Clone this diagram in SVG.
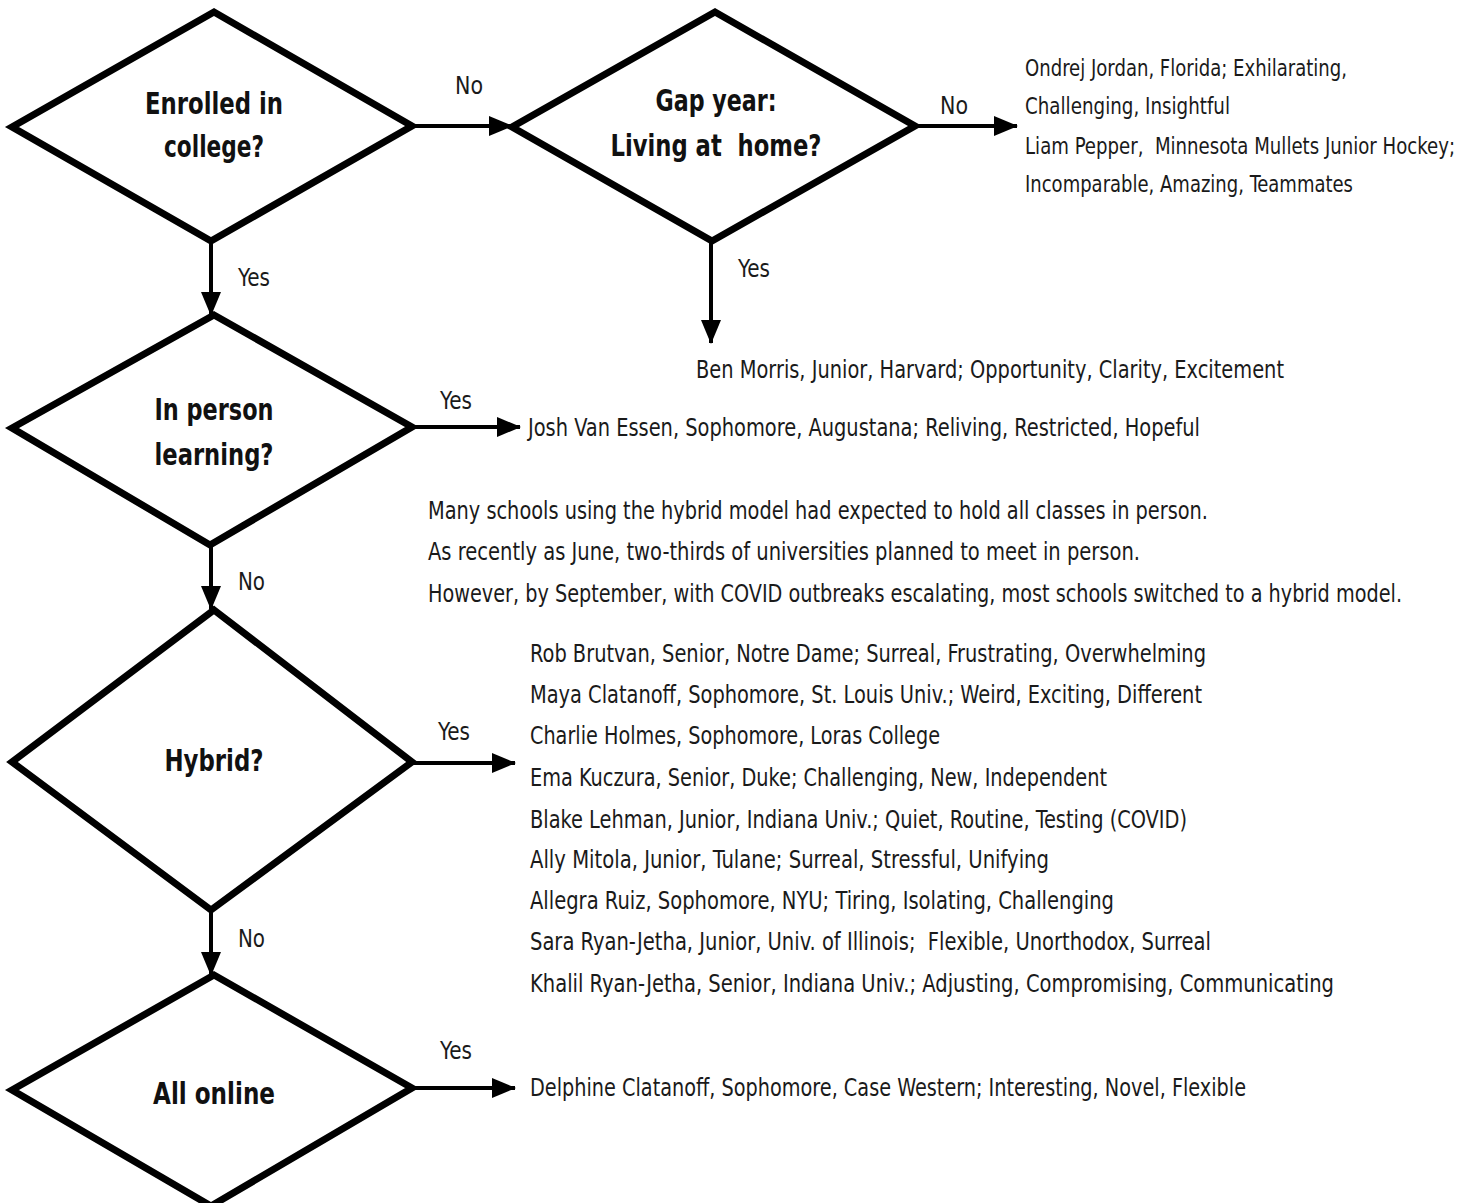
<svg xmlns="http://www.w3.org/2000/svg" width="1474" height="1203" viewBox="0 0 1474 1203">
<style>
.dia{fill:#fff;stroke:#000;stroke-width:7;stroke-linejoin:miter}
.con{fill:none;stroke:#000;stroke-width:4}
text{font-family:"Liberation Sans Narrow","DejaVu Sans Condensed","Liberation Sans",sans-serif;fill:#1a1a1a}
.q{font-size:31px;font-weight:bold;text-anchor:middle;fill:#111}
.t{font-size:25px}
.s{font-size:23px}
.l{font-size:24px}
</style>
<defs>
<marker id="ah" markerUnits="userSpaceOnUse" markerWidth="24" markerHeight="20" refX="23" refY="10" orient="auto">
<path d="M0,0 L24,10 L0,20 z" fill="#000"/>
</marker>
</defs>
<rect width="1474" height="1203" fill="#fff"/>
<g id="connectors">
<line class="con" x1="412" y1="126" x2="512" y2="126" marker-end="url(#ah)"/>
<line class="con" x1="915" y1="126" x2="1017" y2="126" marker-end="url(#ah)"/>
<line class="con" x1="211" y1="242" x2="211" y2="315" marker-end="url(#ah)"/>
<line class="con" x1="711" y1="242" x2="711" y2="343" marker-end="url(#ah)"/>
<line class="con" x1="412" y1="427" x2="520" y2="427" marker-end="url(#ah)"/>
<line class="con" x1="211" y1="545" x2="211" y2="609" marker-end="url(#ah)"/>
<line class="con" x1="412" y1="763" x2="515" y2="763" marker-end="url(#ah)"/>
<line class="con" x1="211" y1="910" x2="211" y2="975" marker-end="url(#ah)"/>
<line class="con" x1="412" y1="1088" x2="515" y2="1088" marker-end="url(#ah)"/>
<text class="l" x="455" y="94" textLength="28" lengthAdjust="spacingAndGlyphs">No</text>
<text class="l" x="940" y="114" textLength="28" lengthAdjust="spacingAndGlyphs">No</text>
<text class="l" x="238" y="286" textLength="32" lengthAdjust="spacingAndGlyphs">Yes</text>
<text class="l" x="738" y="277" textLength="32" lengthAdjust="spacingAndGlyphs">Yes</text>
<text class="l" x="440" y="409" textLength="32" lengthAdjust="spacingAndGlyphs">Yes</text>
<text class="l" x="238" y="590" textLength="27" lengthAdjust="spacingAndGlyphs">No</text>
<text class="l" x="438" y="740" textLength="32" lengthAdjust="spacingAndGlyphs">Yes</text>
<text class="l" x="238" y="947" textLength="27" lengthAdjust="spacingAndGlyphs">No</text>
<text class="l" x="440" y="1059" textLength="32" lengthAdjust="spacingAndGlyphs">Yes</text>
</g>
<g id="n-enrolled">
<polygon class="dia" points="214,12 412,126 211,241 12,127"/>
<text class="q" x="214" y="114" textLength="138" lengthAdjust="spacingAndGlyphs">Enrolled in</text>
<text class="q" x="214" y="157" textLength="100" lengthAdjust="spacingAndGlyphs">college?</text>
</g>
<g id="n-gap">
<polygon class="dia" points="715,12 915,126 712,241 512,127"/>
<text class="q" x="716" y="111" textLength="121" lengthAdjust="spacingAndGlyphs">Gap year:</text>
<text class="q" x="716" y="156" textLength="211" lengthAdjust="spacingAndGlyphs" xml:space="preserve">Living at  home?</text>
</g>
<g id="n-inperson">
<polygon class="dia" points="214,315 412,427 210,545 12,428"/>
<text class="q" x="214" y="420" textLength="119" lengthAdjust="spacingAndGlyphs">In person</text>
<text class="q" x="214" y="465" textLength="119" lengthAdjust="spacingAndGlyphs">learning?</text>
</g>
<g id="n-hybrid">
<polygon class="dia" points="214,610 412,762 211,910 12,762"/>
<text class="q" x="214" y="771" textLength="99" lengthAdjust="spacingAndGlyphs">Hybrid?</text>
</g>
<g id="n-online">
<polygon class="dia" points="214,975 412,1088 211,1206 12,1090"/>
<text class="q" x="214" y="1104" textLength="122" lengthAdjust="spacingAndGlyphs">All online</text>
</g>
<g id="n-gap-no">
<text class="s" x="1025" y="76" textLength="322" lengthAdjust="spacingAndGlyphs">Ondrej Jordan, Florida; Exhilarating,</text>
<text class="s" x="1025" y="114" textLength="205" lengthAdjust="spacingAndGlyphs">Challenging, Insightful</text>
<text class="s" x="1025" y="154" textLength="430" lengthAdjust="spacingAndGlyphs" xml:space="preserve">Liam Pepper,  Minnesota Mullets Junior Hockey;</text>
<text class="s" x="1025" y="192" textLength="328" lengthAdjust="spacingAndGlyphs">Incomparable, Amazing, Teammates</text>
</g>
<g id="n-gap-yes">
<text class="t" x="696" y="378" textLength="588" lengthAdjust="spacingAndGlyphs">Ben Morris, Junior, Harvard; Opportunity, Clarity, Excitement</text>
</g>
<g id="n-inperson-yes">
<text class="t" x="528" y="436" textLength="672" lengthAdjust="spacingAndGlyphs">Josh Van Essen, Sophomore, Augustana; Reliving, Restricted, Hopeful</text>
</g>
<g id="note">
<text class="t" x="428" y="519" textLength="780" lengthAdjust="spacingAndGlyphs">Many schools using the hybrid model had expected to hold all classes in person.</text>
<text class="t" x="428" y="560" textLength="712" lengthAdjust="spacingAndGlyphs">As recently as June, two-thirds of universities planned to meet in person.</text>
<text class="t" x="428" y="602" textLength="974" lengthAdjust="spacingAndGlyphs">However, by September, with COVID outbreaks escalating, most schools switched to a hybrid model.</text>
</g>
<g id="n-hybrid-yes">
<text class="t" x="530" y="662" textLength="676" lengthAdjust="spacingAndGlyphs">Rob Brutvan, Senior, Notre Dame; Surreal, Frustrating, Overwhelming</text>
<text class="t" x="530" y="703" textLength="672" lengthAdjust="spacingAndGlyphs">Maya Clatanoff, Sophomore, St. Louis Univ.; Weird, Exciting, Different</text>
<text class="t" x="530" y="744" textLength="410" lengthAdjust="spacingAndGlyphs">Charlie Holmes, Sophomore, Loras College</text>
<text class="t" x="530" y="786" textLength="577" lengthAdjust="spacingAndGlyphs">Ema Kuczura, Senior, Duke; Challenging, New, Independent</text>
<text class="t" x="530" y="828" textLength="657" lengthAdjust="spacingAndGlyphs">Blake Lehman, Junior, Indiana Univ.; Quiet, Routine, Testing (COVID)</text>
<text class="t" x="530" y="868" textLength="519" lengthAdjust="spacingAndGlyphs">Ally Mitola, Junior, Tulane; Surreal, Stressful, Unifying</text>
<text class="t" x="530" y="909" textLength="584" lengthAdjust="spacingAndGlyphs">Allegra Ruiz, Sophomore, NYU; Tiring, Isolating, Challenging</text>
<text class="t" x="530" y="950" textLength="681" lengthAdjust="spacingAndGlyphs" xml:space="preserve">Sara Ryan-Jetha, Junior, Univ. of Illinois;  Flexible, Unorthodox, Surreal</text>
<text class="t" x="530" y="992" textLength="804" lengthAdjust="spacingAndGlyphs">Khalil Ryan-Jetha, Senior, Indiana Univ.; Adjusting, Compromising, Communicating</text>
</g>
<g id="n-online-yes">
<text class="t" x="530" y="1096" textLength="716" lengthAdjust="spacingAndGlyphs">Delphine Clatanoff, Sophomore, Case Western; Interesting, Novel, Flexible</text>
</g>
</svg>
